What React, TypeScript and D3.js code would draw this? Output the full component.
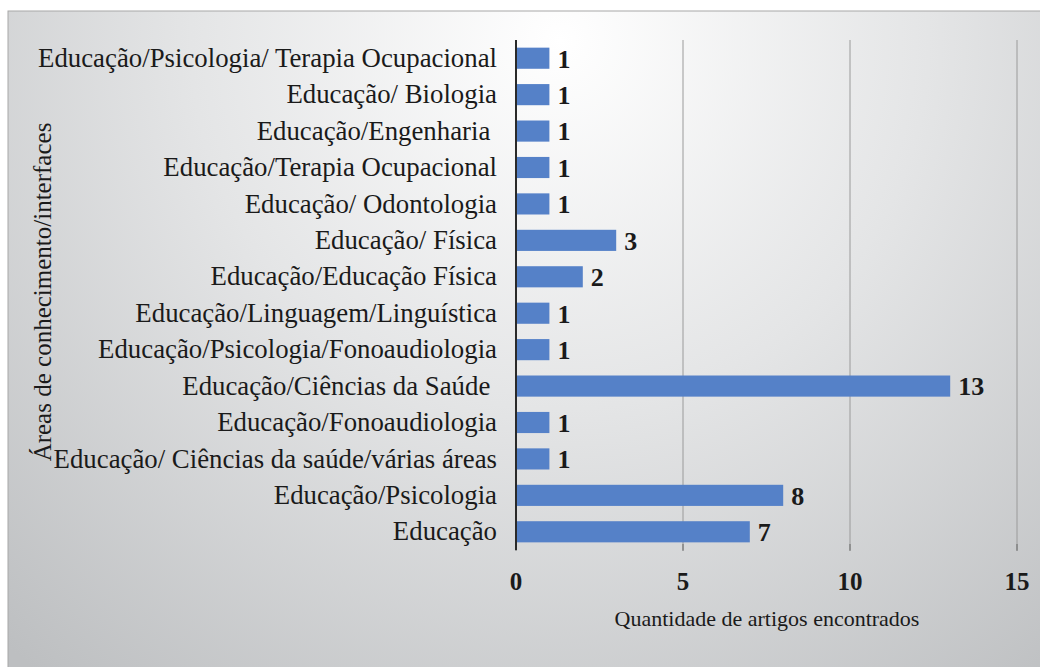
import React from "react";
import * as d3 from "d3";

const categories = [
  "Educação/Psicologia/ Terapia Ocupacional",
  "Educação/ Biologia",
  "Educação/Engenharia ",
  "Educação/Terapia Ocupacional",
  "Educação/ Odontologia",
  "Educação/ Física",
  "Educação/Educação Física",
  "Educação/Linguagem/Linguística",
  "Educação/Psicologia/Fonoaudiologia",
  "Educação/Ciências da Saúde ",
  "Educação/Fonoaudiologia",
  "Educação/ Ciências da saúde/várias áreas",
  "Educação/Psicologia",
  "Educação",
];
const values = [1, 1, 1, 1, 1, 3, 2, 1, 1, 13, 1, 1, 8, 7];
const xTicks = [0, 5, 10, 15];

const W = 1040;
const H = 667;
const left = 516;
const right = 1017;
const top = 40;
const bottom = 550;
const serif = "Liberation Serif, Times New Roman, serif";

export default function App() {
  const x = d3.scaleLinear().domain([0, 15]).range([left, right]);
  const y = d3
    .scaleBand<string>()
    .domain(categories)
    .range([top, bottom])
    .paddingInner(0.42)
    .paddingOuter(0.21);

  return (
    <svg
      width={W}
      height={H}
      style={{ position: "absolute", left: 0, top: 0 }}
    >
      <defs>
        <radialGradient
          id="bg"
          cx={560}
          cy={40}
          r={820}
          gradientUnits="userSpaceOnUse"
        >
          <stop offset="0" stopColor="#ffffff" />
          <stop offset="0.45" stopColor="#e4e5e6" />
          <stop offset="1" stopColor="#bdbfc1" />
        </radialGradient>
      </defs>
      <rect x={0} y={0} width={W} height={H} fill="#ffffff" />
      <rect x={8} y={11} width={W} height={H} fill="url(#bg)" stroke="#a8a8a8" strokeWidth={1} />

      {/* grid lines */}
      {xTicks.slice(1).map((t) => (
        <line
          key={"g" + t}
          x1={x(t)}
          x2={x(t)}
          y1={top}
          y2={bottom}
          stroke="#9a9a9a"
          strokeWidth={1}
        />
      ))}
      {/* tick marks */}
      {xTicks.map((t) => (
        <line
          key={"t" + t}
          x1={x(t)}
          x2={x(t)}
          y1={bottom - 6}
          y2={bottom + 1}
          stroke="#6a6a6a"
          strokeWidth={1}
        />
      ))}

      {/* bars */}
      {categories.map((c, i) => (
        <g key={c}>
          <rect
            x={x(0)}
            y={y(c)}
            width={x(values[i]) - x(0)}
            height={y.bandwidth()}
            fill="#5581c8"
          />
          <text
            x={x(values[i]) + 8}
            y={(y(c) as number) + y.bandwidth() / 2}
            dy="0.36em"
            fontFamily={serif}
            fontWeight="bold"
            fontSize={26}
            fill="#1a1a1a"
          >
            {values[i]}
          </text>
          <text
            x={497}
            y={(y(c) as number) + y.bandwidth() / 2}
            dy="0.32em"
            textAnchor="end"
            fontFamily={serif}
            fontSize={26.8}
            fill="#1a1a1a"
            style={{ whiteSpace: "pre" }}
          >
            {c}
          </text>
        </g>
      ))}

      {/* axis line */}
      <line x1={x(0)} x2={x(0)} y1={top} y2={bottom} stroke="#2a2a2a" strokeWidth={2} />

      {/* x tick labels */}
      {xTicks.map((t) => (
        <text
          key={"l" + t}
          x={x(t)}
          y={590}
          textAnchor="middle"
          fontFamily={serif}
          fontWeight="bold"
          fontSize={25}
          fill="#1a1a1a"
        >
          {t}
        </text>
      ))}

      <text
        x={767}
        y={626}
        textAnchor="middle"
        fontFamily={serif}
        fontSize={22}
        fill="#1a1a1a"
      >
        Quantidade de artigos encontrados
      </text>

      <text
        transform={`translate(51,292) rotate(-90)`}
        textAnchor="middle"
        fontFamily={serif}
        fontSize={25}
        fill="#1a1a1a"
      >
        Áreas de conhecimento/interfaces
      </text>
    </svg>
  );
}
